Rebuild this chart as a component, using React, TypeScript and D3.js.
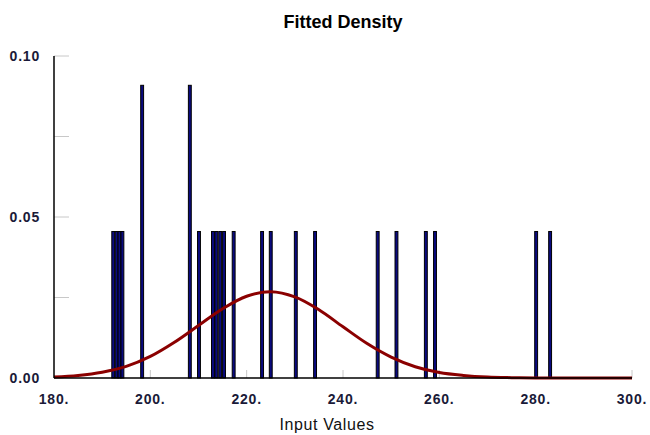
import React from 'react';
import * as d3 from 'd3';

// observed input values (bar positions) and their density heights
const barValues = [192.3, 193.0, 193.6, 194.2, 198.3, 208.2, 210.1, 213.0, 213.7, 214.5, 215.3, 217.3, 223.2, 225.0, 230.2, 234.2, 247.2, 251.1, 257.2, 259.1, 280.1, 283.0];
const barHeights = [0.0455, 0.0455, 0.0455, 0.0455, 0.0909, 0.0909, 0.0455, 0.0455, 0.0455, 0.0455, 0.0455, 0.0455, 0.0455, 0.0455, 0.0455, 0.0455, 0.0455, 0.0455, 0.0455, 0.0455, 0.0455, 0.0455];

// fitted density curve
const curveX = [180, 185, 190, 195, 200, 205, 210, 215, 220, 225, 230, 235, 240, 245, 250, 255, 260, 265, 270, 275, 280, 290, 300];
const curveY = [0.0003, 0.0008, 0.0018, 0.0036, 0.0067, 0.0111, 0.0163, 0.0215, 0.0254, 0.0268, 0.0252, 0.0212, 0.0159, 0.0107, 0.0065, 0.0035, 0.0017, 0.0008, 0.0003, 0.0001, 0, 0, 0];

const xTicks = [180, 200, 220, 240, 260, 280, 300];
const yMajor = [0, 0.05, 0.1];
const yMinor = [0.025, 0.05, 0.075, 0.1];

const W = 650;
const H = 435;
const margin = { top: 56, right: 18, bottom: 57, left: 54 };

const App = () => {
  const x = d3.scaleLinear().domain([180, 300]).range([margin.left, W - margin.right]);
  const y = d3.scaleLinear().domain([0, 0.1]).range([H - margin.bottom, margin.top]);
  const barW = 0.6; // in data units

  const line = d3
    .line<number>()
    .x((_, i) => x(curveX[i]))
    .y((d) => y(d))
    .curve(d3.curveCatmullRom);

  const font = '"Liberation Sans", Arial, sans-serif';
  const labelColor = '#1a1a38';

  return (
    <svg width={W} height={H} style={{ position: 'absolute', left: 0, top: 0 }} fontFamily={font}>
      <rect width={W} height={H} fill="#fff" />
      <text x={(x(180) + x(300)) / 2} y={28} textAnchor="middle" fontSize={18} fontWeight="bold" fill="#000">
        Fitted Density
      </text>

      {/* y minor ticks */}
      {yMinor.map((t) => (
        <line key={t} x1={x(180)} x2={x(180) + 15} y1={y(t)} y2={y(t)} stroke="#c8c8c8" strokeWidth={1} />
      ))}
      {/* x ticks */}
      {xTicks.slice(1).map((t) => (
        <line key={t} x1={x(t)} x2={x(t)} y1={y(0)} y2={y(0) - 8} stroke="#c8c8c8" strokeWidth={1} />
      ))}

      {/* bars */}
      {barValues.map((v, i) => (
        <rect
          key={i}
          x={x(v - barW / 2)}
          y={y(barHeights[i])}
          width={x(v + barW / 2) - x(v - barW / 2)}
          height={y(0) - y(barHeights[i])}
          fill="#0a0a80"
          stroke="#000"
          strokeWidth={1}
        />
      ))}

      {/* fitted curve */}
      <path d={line(curveY) || ''} fill="none" stroke="#8b0000" strokeWidth={3} />

      {/* axes */}
      <line x1={x(180)} x2={x(180)} y1={y(0.1)} y2={y(0)} stroke="#000" strokeWidth={1.5} />
      <line x1={x(180)} x2={x(300)} y1={y(0)} y2={y(0)} stroke="#000" strokeWidth={1.5} />

      {yMajor.map((t) => (
        <text key={t} x={40} y={y(t)} dy="0.35em" textAnchor="end" fontSize={14} letterSpacing={0.8} fontWeight="bold" fill={labelColor}>
          {d3.format('.2f')(t)}
        </text>
      ))}
      {xTicks.map((t) => (
        <text key={t} x={x(t)} y={404} textAnchor="middle" fontSize={14} letterSpacing={0.8} fontWeight="bold" fill={labelColor}>
          {t + '.'}
        </text>
      ))}
      <text x={327} y={430} textAnchor="middle" fontSize={16} letterSpacing={0.6} fill="#111">
        Input Values
      </text>
    </svg>
  );
};

export default App;
